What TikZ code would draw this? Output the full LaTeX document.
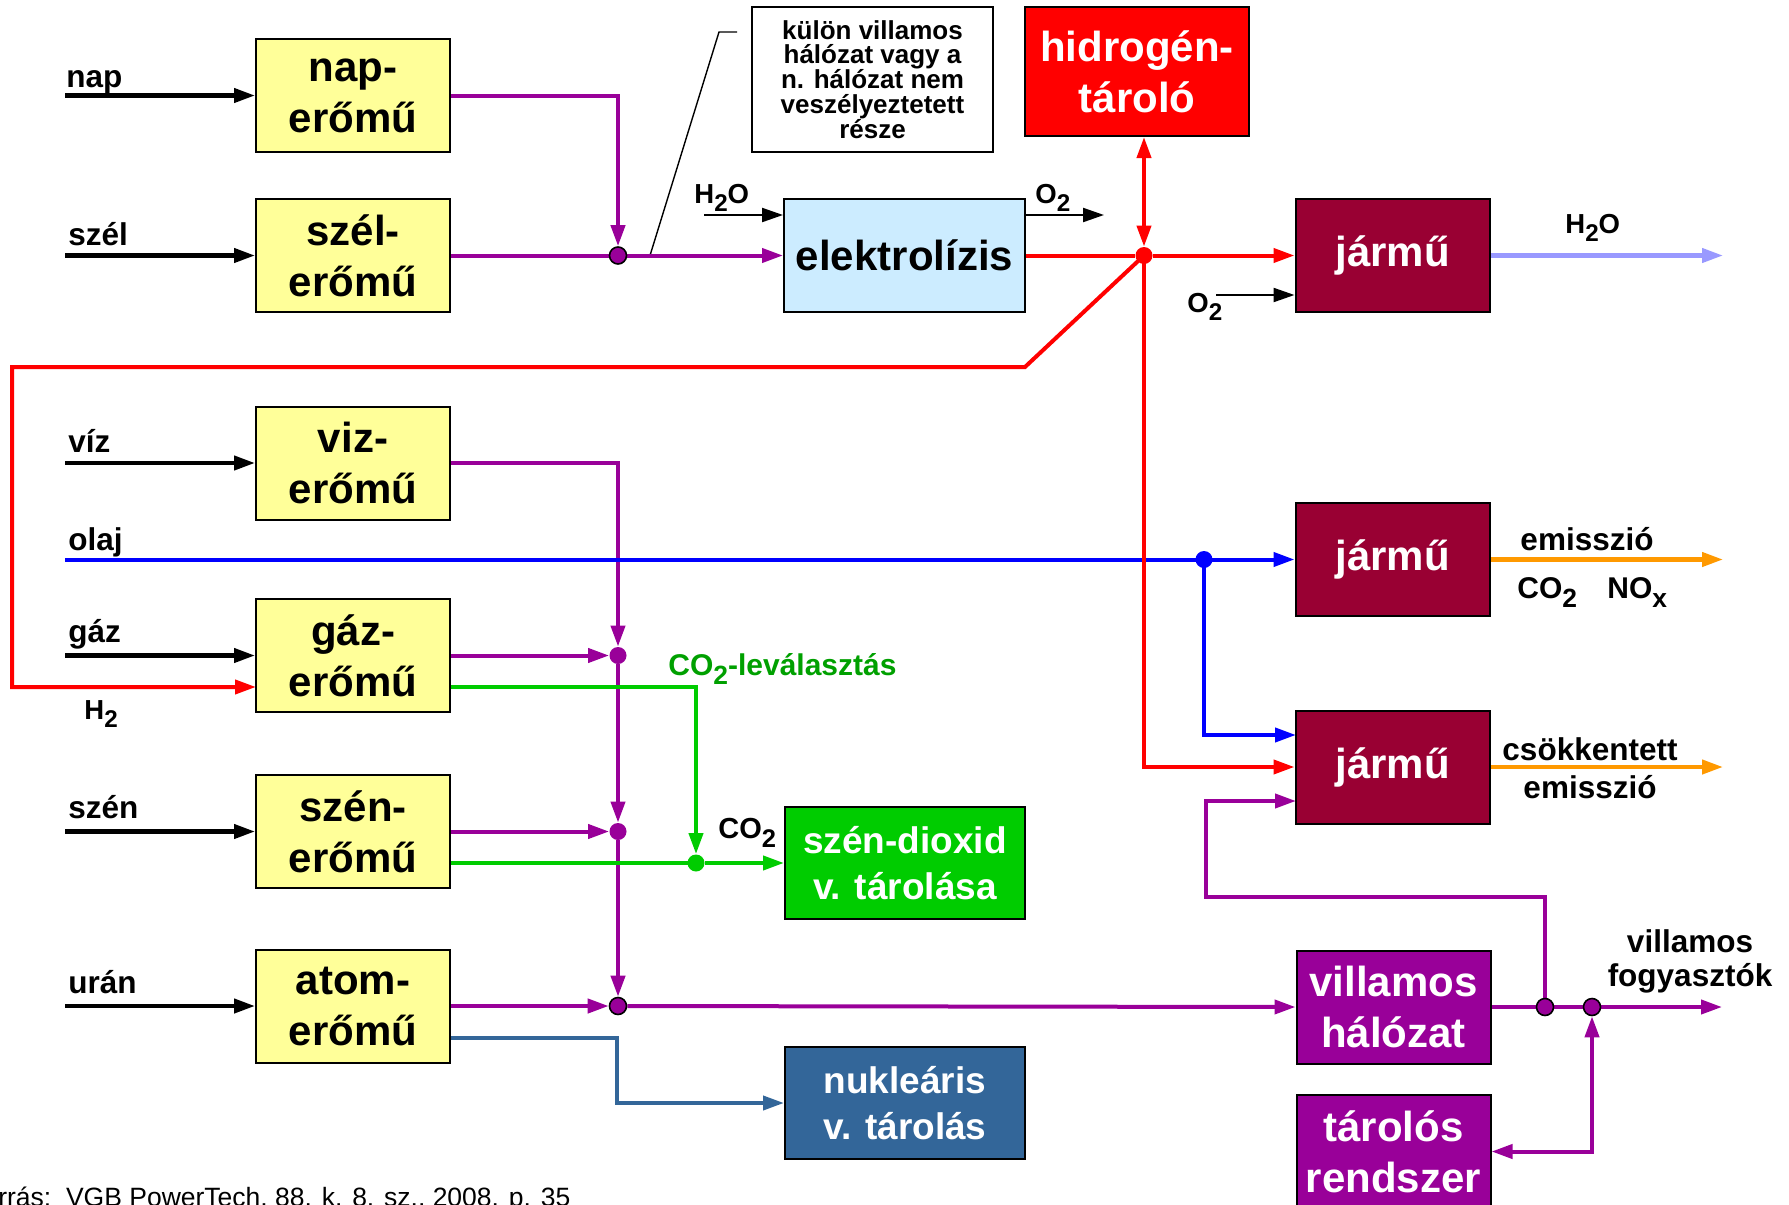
\documentclass[tikz,border=0pt]{standalone}
\usepackage{fontspec}
\setmainfont{Liberation Sans}
\usetikzlibrary{arrows.meta,backgrounds}
\definecolor{yel}{HTML}{FFFF99}
\definecolor{lblu}{HTML}{CCECFF}
\definecolor{hred}{HTML}{FF0000}
\definecolor{jarc}{HTML}{990033}
\definecolor{grn}{HTML}{00CC00}
\definecolor{grntext}{HTML}{00A000}
\definecolor{steel}{HTML}{336699}
\definecolor{pur}{HTML}{990099}
\definecolor{orng}{HTML}{FF9900}
\definecolor{lbline}{HTML}{9999FF}
\definecolor{bluec}{HTML}{0000FF}
\newcommand{\bigf}{\fontsize{21pt}{25.5pt}\selectfont\bfseries}
\newcommand{\midf}{\fontsize{18.5pt}{23pt}\selectfont\bfseries}
\newcommand{\labf}{\fontsize{15.75pt}{18pt}\selectfont\bfseries}
\newcommand{\chemf}{\fontsize{13.75pt}{16pt}\selectfont\bfseries}
\newcommand{\notef}{\fontsize{13pt}{12.4pt}\selectfont\bfseries}
\newcommand{\sbs}[1]{\raisebox{-0.32em}{\scalebox{0.88}{#1}}}
\begin{document}
\begin{tikzpicture}[x=0.5pt,y=-0.5pt,
  >={Triangle[length=10.5pt,width=7pt]},
  box/.style={draw=black,line width=1pt,inner sep=0pt,align=center,minimum width=97pt,minimum height=56.5pt,font=\bigf},
  ybox/.style={box,fill=yel},
  wbox/.style={box,text=white},
  lab/.style={inner sep=0pt,font=\labf,anchor=base west},
  clab/.style={inner sep=0pt,font=\labf,anchor=base},
  chem/.style={inner sep=0pt,font=\chemf,anchor=base west},
  inarr/.style={line width=2.1pt,->},
  smarr/.style={line width=1.1pt,->},
  pline/.style={draw=pur,line width=2pt},
  rline/.style={draw=hred,line width=2pt},
  bline/.style={draw=bluec,line width=2pt},
  gline/.style={draw=grn,line width=2pt},
  sline/.style={draw=steel,line width=2pt},
  oline/.style={draw=orng,line width=2.1pt},
  lline/.style={draw=lbline,line width=2.1pt},
  jdot/.style={circle,inner sep=0pt,minimum size=8.5pt},
]
\useasboundingbox (0,0) rectangle (1789,1205);

% boxes
\node[ybox] (nap) at (353,95.5) {nap-\\erőmű};
\node[ybox] (szel) at (353,255.5) {szél-\\erőmű};
\node[ybox] (viz) at (353,463) {viz-\\erőmű};
\node[ybox] (gaz) at (353,655.5) {gáz-\\erőmű};
\node[ybox] (szen) at (353,831.5) {szén-\\erőmű};
\node[ybox] (atom) at (353,1006) {atom-\\erőmű};
\node[box,fill=lblu,minimum width=120.5pt] (elek) at (904.5,255.5) {elektrolízis};
\node[wbox,fill=hred,minimum width=112pt,minimum height=64.5pt] (hidro) at (1137,71.5) {hidrogén-\\tároló};
\node[wbox,fill=jarc] (jar1) at (1392.5,255.5) {jármű};
\node[wbox,fill=jarc] (jar2) at (1392.5,559.5) {jármű};
\node[wbox,fill=jarc] (jar3) at (1392.5,767) {jármű};
\node[wbox,fill=grn,minimum width=120pt,minimum height=56pt,font=\midf] (co2) at (905,863) {szén-dioxid\\v. tárolása};
\node[wbox,fill=steel,minimum width=120pt,minimum height=56pt,font=\midf] (nuk) at (905,1103) {nukleáris\\v. tárolás};
\node[wbox,fill=pur] (vill) at (1393.5,1007) {villamos\\hálózat};
\node[wbox,fill=pur] (tar) at (1393.5,1151.5) {tárolós\\rendszer};
\node[draw=black,line width=1pt,minimum width=120.5pt,minimum height=72.5pt,align=center,font=\notef,inner sep=0pt] (note) at (872.5,79.5) {külön villamos\\hálózat vagy a\\n. hálózat nem\\veszélyeztetett\\része};

% junctions
\node[jdot,fill=pur,draw=black,line width=0.8pt] (jsun) at (618,255.5) {};
\node[jdot,fill=pur] (jg) at (618,655.5) {};
\node[jdot,fill=pur] (js) at (618,831.5) {};
\node[jdot,fill=pur,draw=black,line width=0.8pt] (ja) at (618,1006) {};
\node[jdot,fill=pur,draw=black,line width=0.8pt] (jv1) at (1545,1007) {};
\node[jdot,fill=pur,draw=black,line width=0.8pt] (jv2) at (1592,1007) {};
\node[jdot,fill=hred] (jr) at (1144,255.5) {};
\node[jdot,fill=bluec] (jb) at (1204,559.5) {};
\node[jdot,fill=grn] (jc) at (696,863) {};

% coordinates
\coordinate (inap) at (65,95.5);
\coordinate (iszel) at (65,255.5);
\coordinate (iviz) at (65,463);
\coordinate (igaz) at (65,655.5);
\coordinate (iszen) at (65,831.5);
\coordinate (iatom) at (65,1006);
\coordinate (iolaj) at (65,559.5);
\coordinate (h2oin) at (704,215);
\coordinate (o2out) at (1104,215);
\coordinate (o2in) at (1216,295);
\coordinate (cst) at (650,255.5);
\coordinate (cmid) at (719,32);
\coordinate (cend) at (737,32);
\coordinate (rk1) at (1025,367);
\coordinate (rk2) at (12,367);
\coordinate (gazH) at (256,687);
\coordinate (gazG) at (450,687);
\coordinate (szenG) at (450,863);
\coordinate (atomS) at (450,1038);
\coordinate (sk) at (617,1038);
\coordinate (jar3b) at (1296,735);
\coordinate (jar3p) at (1296,801);
\coordinate (pk1) at (1206,897);
\coordinate (fogy) at (1722,1007);
\coordinate (h2oout) at (1723,255.5);
\coordinate (emout) at (1723,559.5);
\coordinate (csout) at (1723,767);

\begin{scope}[on background layer]
  % black inputs
  \draw[inarr] (inap) -- (nap.west);
  \draw[inarr] (iszel) -- (szel.west);
  \draw[inarr] (iviz) -- (viz.west);
  \draw[inarr] (igaz) -- (gaz.west);
  \draw[inarr] (iszen) -- (szen.west);
  \draw[inarr] (iatom) -- (atom.west);
  \draw[smarr] (h2oin) -- (h2oin -| elek.west);
  \draw[smarr] (o2out -| elek.east) -- (o2out);
  \draw[smarr] (o2in) -- (o2in -| jar1.west);
  % callout
  \draw[line width=0.7pt] (cst) -- (cmid) -- (cend);
  % purple
  \draw[pline,->] (nap.east) -| (jsun);
  \draw[pline] (szel.east) -- (jsun.center);
  \draw[pline,->] (jsun) -- (elek.west);
  \draw[pline,->] (viz.east) -| (jg);
  \draw[pline,->] (gaz.east) -- (jg);
  \draw[pline,->] (jg) -- (js);
  \draw[pline,->] (szen.east) -- (js);
  \draw[pline,->] (js) -- (ja);
  \draw[pline,->] (atom.east) -- (ja);
  \draw[pline,->] (ja) -- (vill.west);
  \draw[pline] (vill.east) -- (jv1.center) -- (jv2.center);
  \draw[pline,->] (jv2) -- (fogy);
  \draw[pline,->] (jv1.center) |- (pk1) |- (jar3p);
  \draw[pline,<->] (tar.east) -| (jv2);
  % blue
  \draw[bline,->] (iolaj) -- (jar2.west);
  \draw[bline,->] (jb.center) |- (jar3b);
  % red
  \draw[rline] (elek.east) -- (jr);
  \draw[rline,->] (jr) -- (jar1.west);
  \draw[rline,<->] (hidro.south -| jr) -- (jr);
  \draw[rline,->] (jr.center) -- (rk1) -- (rk2) |- (gazH);
  \draw[rline,->] (jr.center) |- (jar3.west);
  % green
  \draw[gline,->] (gazG) -| (jc);
  \draw[gline] (szenG) -- (jc.center);
  \draw[gline,->] (jc) -- (co2.west);
  % steel
  \draw[sline,->] (atomS) -- (sk) |- (nuk.west);
  % outputs
  \draw[lline,->] (jar1.east) -- (h2oout);
  \draw[oline,->] (jar2.east) -- (emout);
  \draw[oline,->] (jar3.east) -- (csout);
\end{scope}

% labels
\node[lab] (lnap) at (66,87) {nap};
\node[lab] (lszel) at (68,245) {szél};
\node[lab] (lviz) at (68,452) {víz};
\node[lab] (lolaj) at (68,550) {olaj};
\node[lab] (lgaz) at (68,642) {gáz};
\node[lab] (lszen) at (68,818) {szén};
\node[lab] (luran) at (68,993) {urán};
\node[chem] (lh2) at (84,719) {H\sbs{2}};
\node[chem] (lh2oa) at (694,203) {H\sbs{2}O};
\node[chem] (lo2a) at (1035,203) {O\sbs{2}};
\node[chem] (lo2b) at (1187,312) {O\sbs{2}};
\node[chem] (lh2ob) at (1565,233) {H\sbs{2}O};
\node[inner sep=0pt,font=\fontsize{15pt}{17pt}\selectfont\bfseries,text=grntext,anchor=base west] (lsep) at (668,675) {CO\sbs{2}-leválasztás};
\node[inner sep=0pt,font=\fontsize{14.5pt}{17pt}\selectfont\bfseries,anchor=base west] (lco2) at (718,838) {CO\sbs{2}};
\node[clab] (lem1) at (1587,550) {emisszió};
\node[inner sep=0pt,font=\fontsize{15pt}{17pt}\selectfont\bfseries,anchor=base west] (lco2b) at (1517,598) {CO\sbs{2}};
\node[inner sep=0pt,font=\fontsize{15pt}{17pt}\selectfont\bfseries,anchor=base west] (lnox) at (1607,598) {NO\sbs{x}};
\node[clab] (lcs) at (1590,760) {csökkentett};
\node[clab] (lem2) at (1590,798) {emisszió};
\node[clab] (lvil) at (1690,952) {villamos};
\node[clab] (lfog) at (1690,986) {fogyasztók};

\begin{scope}
  \clip (0,0) rectangle (1789,1205);
  \node[inner sep=0pt,font=\fontsize{13.25pt}{15pt}\selectfont,anchor=base west] (src) at (-33,1206) {Forrás:\ \ VGB PowerTech, 88. k. 8. sz., 2008. p. 35};
\end{scope}
\end{tikzpicture}
\end{document}
